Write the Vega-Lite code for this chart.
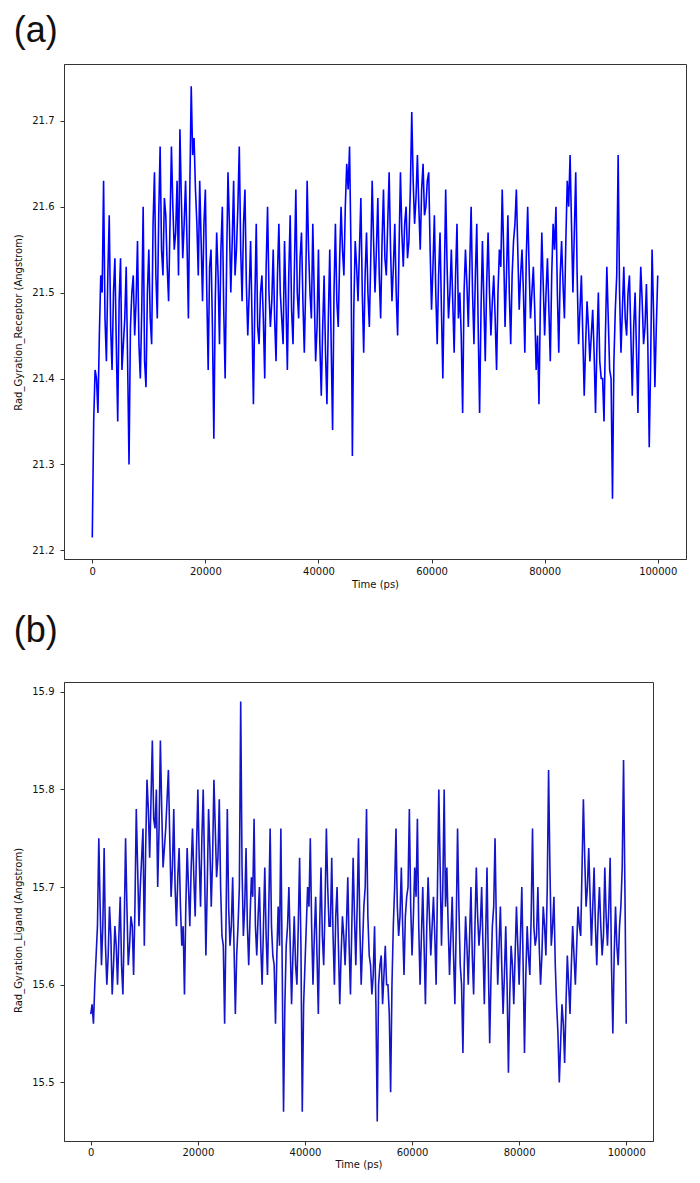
{
  "$schema": "https://vega.github.io/schema/vega-lite/v6.json",
  "description": "Radius of gyration of receptor (a) and ligand (b) over 100 ns",
  "padding": {"left": 13, "top": 12, "right": 5, "bottom": 5},
  "background": "white",
  "spacing": 22,
  "config": {
    "view": {"stroke": "#333", "strokeWidth": 1},
    "axis": {
      "grid": false,
      "domainColor": "#333",
      "tickColor": "#333",
      "tickSize": 4,
      "labelFont": "DejaVu Sans",
      "labelFontSize": 10,
      "labelColor": "#111",
      "titleFont": "DejaVu Sans",
      "titleFontSize": 10,
      "titleFontWeight": "normal",
      "titleColor": "#111",
      "labelFlush": false
    },
    "title": {
      "font": "Liberation Sans",
      "fontSize": 36,
      "fontWeight": "normal",
      "anchor": "start",
      "frame": "bounds",
      "color": "#111"
    }
  },
  "datasets": {
    "receptor": [
      {"t": 0, "v": 21.215}, {"t": 500, "v": 21.41}, {"t": 1000, "v": 21.36}, {"t": 1500, "v": 21.52},
      {"t": 2000, "v": 21.63}, {"t": 2500, "v": 21.42}, {"t": 3000, "v": 21.59}, {"t": 3500, "v": 21.41},
      {"t": 4000, "v": 21.54}, {"t": 4500, "v": 21.35}, {"t": 5000, "v": 21.54}, {"t": 5500, "v": 21.44},
      {"t": 6000, "v": 21.53}, {"t": 6500, "v": 21.30}, {"t": 7000, "v": 21.50}, {"t": 7500, "v": 21.45},
      {"t": 8000, "v": 21.56}, {"t": 8500, "v": 21.40}, {"t": 9000, "v": 21.60}, {"t": 9500, "v": 21.39},
      {"t": 10000, "v": 21.55}, {"t": 10500, "v": 21.44}, {"t": 11000, "v": 21.64}, {"t": 11500, "v": 21.47},
      {"t": 12000, "v": 21.67}, {"t": 12500, "v": 21.52}, {"t": 13000, "v": 21.59}, {"t": 13500, "v": 21.49},
      {"t": 14000, "v": 21.67}, {"t": 14500, "v": 21.55}, {"t": 15000, "v": 21.63}, {"t": 15500, "v": 21.69},
      {"t": 16000, "v": 21.54}, {"t": 16500, "v": 21.63}, {"t": 17000, "v": 21.47}, {"t": 17500, "v": 21.74},
      {"t": 18000, "v": 21.68}, {"t": 18500, "v": 21.58}, {"t": 19000, "v": 21.63}, {"t": 19500, "v": 21.49},
      {"t": 20000, "v": 21.62}, {"t": 20500, "v": 21.41}, {"t": 21000, "v": 21.55}, {"t": 21500, "v": 21.33},
      {"t": 22000, "v": 21.57}, {"t": 22500, "v": 21.44}, {"t": 23000, "v": 21.60}, {"t": 23500, "v": 21.40},
      {"t": 24000, "v": 21.64}, {"t": 24500, "v": 21.50}, {"t": 25000, "v": 21.63}, {"t": 25500, "v": 21.55},
      {"t": 26000, "v": 21.67}, {"t": 26500, "v": 21.49}, {"t": 27000, "v": 21.62}, {"t": 27500, "v": 21.45},
      {"t": 28000, "v": 21.56}, {"t": 28500, "v": 21.37}, {"t": 29000, "v": 21.58}, {"t": 29500, "v": 21.44},
      {"t": 30000, "v": 21.52}, {"t": 30500, "v": 21.40}, {"t": 31000, "v": 21.60}, {"t": 31500, "v": 21.46},
      {"t": 32000, "v": 21.55}, {"t": 32500, "v": 21.42}, {"t": 33000, "v": 21.58}, {"t": 33500, "v": 21.47},
      {"t": 34000, "v": 21.56}, {"t": 34500, "v": 21.41}, {"t": 35000, "v": 21.59}, {"t": 35500, "v": 21.44},
      {"t": 36000, "v": 21.62}, {"t": 36500, "v": 21.47}, {"t": 37000, "v": 21.57}, {"t": 37500, "v": 21.43},
      {"t": 38000, "v": 21.63}, {"t": 38500, "v": 21.50}, {"t": 39000, "v": 21.58}, {"t": 39500, "v": 21.42},
      {"t": 40000, "v": 21.55}, {"t": 40500, "v": 21.38}, {"t": 41000, "v": 21.52}, {"t": 41500, "v": 21.37},
      {"t": 42000, "v": 21.55}, {"t": 42500, "v": 21.34}, {"t": 43000, "v": 21.58}, {"t": 43500, "v": 21.46},
      {"t": 44000, "v": 21.60}, {"t": 44500, "v": 21.52}, {"t": 45000, "v": 21.65}, {"t": 45500, "v": 21.67},
      {"t": 46000, "v": 21.31}, {"t": 46500, "v": 21.56}, {"t": 47000, "v": 21.49}, {"t": 47500, "v": 21.61},
      {"t": 48000, "v": 21.43}, {"t": 48500, "v": 21.57}, {"t": 49000, "v": 21.46}, {"t": 49500, "v": 21.63},
      {"t": 50000, "v": 21.50}, {"t": 50500, "v": 21.61}, {"t": 51000, "v": 21.47}, {"t": 51500, "v": 21.62},
      {"t": 52000, "v": 21.52}, {"t": 52500, "v": 21.64}, {"t": 53000, "v": 21.49}, {"t": 53500, "v": 21.58},
      {"t": 54000, "v": 21.45}, {"t": 54500, "v": 21.64}, {"t": 55000, "v": 21.53}, {"t": 55500, "v": 21.60},
      {"t": 56000, "v": 21.56}, {"t": 56500, "v": 21.71}, {"t": 57000, "v": 21.58}, {"t": 57500, "v": 21.66},
      {"t": 58000, "v": 21.55}, {"t": 58500, "v": 21.65}, {"t": 59000, "v": 21.60}, {"t": 59500, "v": 21.64},
      {"t": 60000, "v": 21.48}, {"t": 60500, "v": 21.59}, {"t": 61000, "v": 21.44}, {"t": 61500, "v": 21.57},
      {"t": 62000, "v": 21.40}, {"t": 62500, "v": 21.62}, {"t": 63000, "v": 21.47}, {"t": 63500, "v": 21.55},
      {"t": 64000, "v": 21.43}, {"t": 64500, "v": 21.58}, {"t": 65000, "v": 21.50}, {"t": 65500, "v": 21.36},
      {"t": 66000, "v": 21.55}, {"t": 66500, "v": 21.46}, {"t": 67000, "v": 21.60}, {"t": 67500, "v": 21.44},
      {"t": 68000, "v": 21.58}, {"t": 68500, "v": 21.36}, {"t": 69000, "v": 21.56}, {"t": 69500, "v": 21.42},
      {"t": 70000, "v": 21.57}, {"t": 70500, "v": 21.45}, {"t": 71000, "v": 21.52}, {"t": 71500, "v": 21.41},
      {"t": 72000, "v": 21.55}, {"t": 72500, "v": 21.62}, {"t": 73000, "v": 21.46}, {"t": 73500, "v": 21.59},
      {"t": 74000, "v": 21.44}, {"t": 74500, "v": 21.56}, {"t": 75000, "v": 21.62}, {"t": 75500, "v": 21.48},
      {"t": 76000, "v": 21.55}, {"t": 76500, "v": 21.43}, {"t": 77000, "v": 21.60}, {"t": 77500, "v": 21.47},
      {"t": 78000, "v": 21.53}, {"t": 78500, "v": 21.41}, {"t": 79000, "v": 21.37}, {"t": 79500, "v": 21.57},
      {"t": 80000, "v": 21.45}, {"t": 80500, "v": 21.54}, {"t": 81000, "v": 21.42}, {"t": 81500, "v": 21.58},
      {"t": 82000, "v": 21.60}, {"t": 82500, "v": 21.43}, {"t": 83000, "v": 21.56}, {"t": 83500, "v": 21.47},
      {"t": 84000, "v": 21.63}, {"t": 84500, "v": 21.66}, {"t": 85000, "v": 21.50}, {"t": 85500, "v": 21.64},
      {"t": 86000, "v": 21.44}, {"t": 86500, "v": 21.52}, {"t": 87000, "v": 21.38}, {"t": 87500, "v": 21.49},
      {"t": 88000, "v": 21.42}, {"t": 88500, "v": 21.48}, {"t": 89000, "v": 21.36}, {"t": 89500, "v": 21.50},
      {"t": 90000, "v": 21.40}, {"t": 90500, "v": 21.35}, {"t": 91000, "v": 21.53}, {"t": 91500, "v": 21.41},
      {"t": 92000, "v": 21.26}, {"t": 92500, "v": 21.48}, {"t": 93000, "v": 21.66}, {"t": 93500, "v": 21.43},
      {"t": 94000, "v": 21.53}, {"t": 94500, "v": 21.45}, {"t": 95000, "v": 21.52}, {"t": 95500, "v": 21.38},
      {"t": 96000, "v": 21.50}, {"t": 96500, "v": 21.36}, {"t": 97000, "v": 21.53}, {"t": 97500, "v": 21.44},
      {"t": 98000, "v": 21.51}, {"t": 98500, "v": 21.32}, {"t": 99000, "v": 21.55}, {"t": 99500, "v": 21.39},
      {"t": 100000, "v": 21.52},
      {"t": 250, "v": 21.35}, {"t": 750, "v": 21.40}, {"t": 1250, "v": 21.45}, {"t": 1750, "v": 21.50},
      {"t": 2250, "v": 21.47}, {"t": 2750, "v": 21.52}, {"t": 3250, "v": 21.46}, {"t": 3750, "v": 21.50},
      {"t": 4250, "v": 21.44}, {"t": 4750, "v": 21.49}, {"t": 5250, "v": 21.41}, {"t": 5750, "v": 21.47},
      {"t": 6250, "v": 21.42}, {"t": 6750, "v": 21.46}, {"t": 7250, "v": 21.52}, {"t": 7750, "v": 21.49},
      {"t": 8250, "v": 21.44}, {"t": 8750, "v": 21.48}, {"t": 9250, "v": 21.42}, {"t": 9750, "v": 21.50},
      {"t": 10250, "v": 21.47}, {"t": 10750, "v": 21.58}, {"t": 11250, "v": 21.52}, {"t": 11750, "v": 21.59},
      {"t": 12250, "v": 21.55}, {"t": 12750, "v": 21.61}, {"t": 13250, "v": 21.53}, {"t": 13750, "v": 21.58},
      {"t": 14250, "v": 21.60}, {"t": 14750, "v": 21.57}, {"t": 15250, "v": 21.52}, {"t": 15750, "v": 21.61},
      {"t": 16250, "v": 21.58}, {"t": 16750, "v": 21.56}, {"t": 17250, "v": 21.62}, {"t": 17750, "v": 21.66},
      {"t": 18250, "v": 21.62}, {"t": 18750, "v": 21.52}, {"t": 19250, "v": 21.56}, {"t": 19750, "v": 21.58},
      {"t": 20250, "v": 21.50}, {"t": 20750, "v": 21.53}, {"t": 21250, "v": 21.46}, {"t": 21750, "v": 21.49},
      {"t": 22250, "v": 21.52}, {"t": 22750, "v": 21.55}, {"t": 23250, "v": 21.48}, {"t": 23750, "v": 21.53},
      {"t": 24250, "v": 21.58}, {"t": 24750, "v": 21.56}, {"t": 25250, "v": 21.52}, {"t": 25750, "v": 21.60},
      {"t": 26250, "v": 21.55}, {"t": 26750, "v": 21.58}, {"t": 27250, "v": 21.51}, {"t": 27750, "v": 21.50},
      {"t": 28250, "v": 21.47}, {"t": 28750, "v": 21.49}, {"t": 29250, "v": 21.46}, {"t": 29750, "v": 21.50},
      {"t": 30250, "v": 21.47}, {"t": 30750, "v": 21.53}, {"t": 31250, "v": 21.50}, {"t": 31750, "v": 21.49},
      {"t": 32250, "v": 21.47}, {"t": 32750, "v": 21.52}, {"t": 33250, "v": 21.50}, {"t": 33750, "v": 21.44},
      {"t": 34250, "v": 21.49}, {"t": 34750, "v": 21.52}, {"t": 35250, "v": 21.48}, {"t": 35750, "v": 21.53},
      {"t": 36250, "v": 21.50}, {"t": 36750, "v": 21.54}, {"t": 37250, "v": 21.49}, {"t": 37750, "v": 21.51},
      {"t": 38250, "v": 21.55}, {"t": 38750, "v": 21.47}, {"t": 39250, "v": 21.50}, {"t": 39750, "v": 21.46},
      {"t": 40250, "v": 21.44}, {"t": 40750, "v": 21.46}, {"t": 41250, "v": 21.43}, {"t": 41750, "v": 21.47},
      {"t": 42250, "v": 21.44}, {"t": 42750, "v": 21.50}, {"t": 43250, "v": 21.49}, {"t": 43750, "v": 21.54},
      {"t": 44250, "v": 21.55}, {"t": 44750, "v": 21.60}, {"t": 45250, "v": 21.62}, {"t": 45750, "v": 21.55},
      {"t": 46250, "v": 21.48}, {"t": 46750, "v": 21.53}, {"t": 47250, "v": 21.55}, {"t": 47750, "v": 21.50},
      {"t": 48250, "v": 21.52}, {"t": 48750, "v": 21.50}, {"t": 49250, "v": 21.54}, {"t": 49750, "v": 21.56},
      {"t": 50250, "v": 21.55}, {"t": 50750, "v": 21.52}, {"t": 51250, "v": 21.56}, {"t": 51750, "v": 21.54},
      {"t": 52250, "v": 21.58}, {"t": 52750, "v": 21.55}, {"t": 53250, "v": 21.53}, {"t": 53750, "v": 21.50},
      {"t": 54250, "v": 21.55}, {"t": 54750, "v": 21.57}, {"t": 55250, "v": 21.58}, {"t": 55750, "v": 21.54},
      {"t": 56250, "v": 21.62}, {"t": 56750, "v": 21.63}, {"t": 57250, "v": 21.61}, {"t": 57750, "v": 21.60},
      {"t": 58250, "v": 21.62}, {"t": 58750, "v": 21.59}, {"t": 59250, "v": 21.63}, {"t": 59750, "v": 21.55},
      {"t": 60250, "v": 21.53}, {"t": 60750, "v": 21.50}, {"t": 61250, "v": 21.52}, {"t": 61750, "v": 21.48},
      {"t": 62250, "v": 21.51}, {"t": 62750, "v": 21.53}, {"t": 63250, "v": 21.50}, {"t": 63750, "v": 21.49},
      {"t": 64250, "v": 21.52}, {"t": 64750, "v": 21.47}, {"t": 65250, "v": 21.45}, {"t": 65750, "v": 21.50},
      {"t": 66250, "v": 21.51}, {"t": 66750, "v": 21.53}, {"t": 67250, "v": 21.50}, {"t": 67750, "v": 21.52},
      {"t": 68250, "v": 21.46}, {"t": 68750, "v": 21.48}, {"t": 69250, "v": 21.49}, {"t": 69750, "v": 21.51},
      {"t": 70250, "v": 21.50}, {"t": 70750, "v": 21.49}, {"t": 71250, "v": 21.47}, {"t": 71750, "v": 21.50},
      {"t": 72250, "v": 21.53}, {"t": 72750, "v": 21.55}, {"t": 73250, "v": 21.52}, {"t": 73750, "v": 21.50},
      {"t": 74250, "v": 21.52}, {"t": 74750, "v": 21.58}, {"t": 75250, "v": 21.55}, {"t": 75750, "v": 21.52},
      {"t": 76250, "v": 21.50}, {"t": 76750, "v": 21.54}, {"t": 77250, "v": 21.53}, {"t": 77750, "v": 21.50},
      {"t": 78250, "v": 21.48}, {"t": 78750, "v": 21.45}, {"t": 79250, "v": 21.49}, {"t": 79750, "v": 21.51},
      {"t": 80250, "v": 21.50}, {"t": 80750, "v": 21.48}, {"t": 81250, "v": 21.52}, {"t": 81750, "v": 21.55},
      {"t": 82250, "v": 21.50}, {"t": 82750, "v": 21.52}, {"t": 83250, "v": 21.51}, {"t": 83750, "v": 21.56},
      {"t": 84250, "v": 21.60}, {"t": 84750, "v": 21.58}, {"t": 85250, "v": 21.57}, {"t": 85750, "v": 21.52},
      {"t": 86250, "v": 21.48}, {"t": 86750, "v": 21.45}, {"t": 87250, "v": 21.44}, {"t": 87750, "v": 21.46},
      {"t": 88250, "v": 21.45}, {"t": 88750, "v": 21.43}, {"t": 89250, "v": 21.44}, {"t": 89750, "v": 21.42},
      {"t": 90250, "v": 21.40}, {"t": 90750, "v": 21.45}, {"t": 91250, "v": 21.47}, {"t": 91750, "v": 21.40},
      {"t": 92250, "v": 21.42}, {"t": 92750, "v": 21.52}, {"t": 93250, "v": 21.50}, {"t": 93750, "v": 21.48},
      {"t": 94250, "v": 21.47}, {"t": 94750, "v": 21.50}, {"t": 95250, "v": 21.45}, {"t": 95750, "v": 21.46},
      {"t": 96250, "v": 21.43}, {"t": 96750, "v": 21.47}, {"t": 97250, "v": 21.49}, {"t": 97750, "v": 21.46},
      {"t": 98250, "v": 21.44}, {"t": 98750, "v": 21.42}, {"t": 99250, "v": 21.48}, {"t": 99750, "v": 21.46}
    ],
    "ligand": [
      {"t": 0, "v": 15.57}, {"t": 500, "v": 15.56}, {"t": 1000, "v": 15.63}, {"t": 1500, "v": 15.75},
      {"t": 2000, "v": 15.62}, {"t": 2500, "v": 15.74}, {"t": 3000, "v": 15.60}, {"t": 3500, "v": 15.68},
      {"t": 4000, "v": 15.59}, {"t": 4500, "v": 15.66}, {"t": 5000, "v": 15.60}, {"t": 5500, "v": 15.69},
      {"t": 6000, "v": 15.59}, {"t": 6500, "v": 15.75}, {"t": 7000, "v": 15.62}, {"t": 7500, "v": 15.67},
      {"t": 8000, "v": 15.61}, {"t": 8500, "v": 15.78}, {"t": 9000, "v": 15.66}, {"t": 9500, "v": 15.73},
      {"t": 10000, "v": 15.64}, {"t": 10500, "v": 15.81}, {"t": 11000, "v": 15.73}, {"t": 11500, "v": 15.85},
      {"t": 12000, "v": 15.76}, {"t": 12500, "v": 15.70}, {"t": 13000, "v": 15.85}, {"t": 13500, "v": 15.72},
      {"t": 14000, "v": 15.76}, {"t": 14500, "v": 15.82}, {"t": 15000, "v": 15.69}, {"t": 15500, "v": 15.78},
      {"t": 16000, "v": 15.66}, {"t": 16500, "v": 15.74}, {"t": 17000, "v": 15.64}, {"t": 17500, "v": 15.59},
      {"t": 18000, "v": 15.74}, {"t": 18500, "v": 15.66}, {"t": 19000, "v": 15.76}, {"t": 19500, "v": 15.67},
      {"t": 20000, "v": 15.80}, {"t": 20500, "v": 15.68}, {"t": 21000, "v": 15.80}, {"t": 21500, "v": 15.63},
      {"t": 22000, "v": 15.78}, {"t": 22500, "v": 15.68}, {"t": 23000, "v": 15.81}, {"t": 23500, "v": 15.71},
      {"t": 24000, "v": 15.79}, {"t": 24500, "v": 15.65}, {"t": 25000, "v": 15.56}, {"t": 25500, "v": 15.78},
      {"t": 26000, "v": 15.64}, {"t": 26500, "v": 15.71}, {"t": 27000, "v": 15.57}, {"t": 27500, "v": 15.66},
      {"t": 28000, "v": 15.89}, {"t": 28500, "v": 15.65}, {"t": 29000, "v": 15.74}, {"t": 29500, "v": 15.62},
      {"t": 30000, "v": 15.71}, {"t": 30500, "v": 15.77}, {"t": 31000, "v": 15.63}, {"t": 31500, "v": 15.70},
      {"t": 32000, "v": 15.60}, {"t": 32500, "v": 15.72}, {"t": 33000, "v": 15.61}, {"t": 33500, "v": 15.76},
      {"t": 34000, "v": 15.63}, {"t": 34500, "v": 15.56}, {"t": 35000, "v": 15.68}, {"t": 35500, "v": 15.76},
      {"t": 36000, "v": 15.47}, {"t": 36500, "v": 15.64}, {"t": 37000, "v": 15.70}, {"t": 37500, "v": 15.58},
      {"t": 38000, "v": 15.67}, {"t": 38500, "v": 15.60}, {"t": 39000, "v": 15.73}, {"t": 39500, "v": 15.47},
      {"t": 40000, "v": 15.62}, {"t": 40500, "v": 15.70}, {"t": 41000, "v": 15.75}, {"t": 41500, "v": 15.60},
      {"t": 42000, "v": 15.69}, {"t": 42500, "v": 15.57}, {"t": 43000, "v": 15.72}, {"t": 43500, "v": 15.62},
      {"t": 44000, "v": 15.76}, {"t": 44500, "v": 15.66}, {"t": 45000, "v": 15.73}, {"t": 45500, "v": 15.60},
      {"t": 46000, "v": 15.70}, {"t": 46500, "v": 15.58}, {"t": 47000, "v": 15.67}, {"t": 47500, "v": 15.62},
      {"t": 48000, "v": 15.71}, {"t": 48500, "v": 15.59}, {"t": 49000, "v": 15.73}, {"t": 49500, "v": 15.62},
      {"t": 50000, "v": 15.75}, {"t": 50500, "v": 15.60}, {"t": 51000, "v": 15.68}, {"t": 51500, "v": 15.78},
      {"t": 52000, "v": 15.63}, {"t": 52500, "v": 15.59}, {"t": 53000, "v": 15.66}, {"t": 53500, "v": 15.46},
      {"t": 54000, "v": 15.62}, {"t": 54500, "v": 15.58}, {"t": 55000, "v": 15.64}, {"t": 55500, "v": 15.60},
      {"t": 56000, "v": 15.49}, {"t": 56500, "v": 15.66}, {"t": 57000, "v": 15.76}, {"t": 57500, "v": 15.65},
      {"t": 58000, "v": 15.72}, {"t": 58500, "v": 15.61}, {"t": 59000, "v": 15.69}, {"t": 59500, "v": 15.78},
      {"t": 60000, "v": 15.63}, {"t": 60500, "v": 15.72}, {"t": 61000, "v": 15.77}, {"t": 61500, "v": 15.60},
      {"t": 62000, "v": 15.70}, {"t": 62500, "v": 15.58}, {"t": 63000, "v": 15.71}, {"t": 63500, "v": 15.63},
      {"t": 64000, "v": 15.69}, {"t": 64500, "v": 15.60}, {"t": 65000, "v": 15.80}, {"t": 65500, "v": 15.64},
      {"t": 66000, "v": 15.80}, {"t": 66500, "v": 15.72}, {"t": 67000, "v": 15.61}, {"t": 67500, "v": 15.69},
      {"t": 68000, "v": 15.58}, {"t": 68500, "v": 15.76}, {"t": 69000, "v": 15.62}, {"t": 69500, "v": 15.53},
      {"t": 70000, "v": 15.67}, {"t": 70500, "v": 15.60}, {"t": 71000, "v": 15.70}, {"t": 71500, "v": 15.59},
      {"t": 72000, "v": 15.72}, {"t": 72500, "v": 15.64}, {"t": 73000, "v": 15.70}, {"t": 73500, "v": 15.58},
      {"t": 74000, "v": 15.72}, {"t": 74500, "v": 15.54}, {"t": 75000, "v": 15.66}, {"t": 75500, "v": 15.75},
      {"t": 76000, "v": 15.60}, {"t": 76500, "v": 15.68}, {"t": 77000, "v": 15.57}, {"t": 77500, "v": 15.66},
      {"t": 78000, "v": 15.51}, {"t": 78500, "v": 15.64}, {"t": 79000, "v": 15.58}, {"t": 79500, "v": 15.68},
      {"t": 80000, "v": 15.60}, {"t": 80500, "v": 15.70}, {"t": 81000, "v": 15.53}, {"t": 81500, "v": 15.66},
      {"t": 82000, "v": 15.61}, {"t": 82500, "v": 15.76}, {"t": 83000, "v": 15.64}, {"t": 83500, "v": 15.70},
      {"t": 84000, "v": 15.60}, {"t": 84500, "v": 15.68}, {"t": 85000, "v": 15.63}, {"t": 85500, "v": 15.82},
      {"t": 86000, "v": 15.64}, {"t": 86500, "v": 15.69}, {"t": 87000, "v": 15.58}, {"t": 87500, "v": 15.50},
      {"t": 88000, "v": 15.58}, {"t": 88500, "v": 15.52}, {"t": 89000, "v": 15.63}, {"t": 89500, "v": 15.57},
      {"t": 90000, "v": 15.66}, {"t": 90500, "v": 15.60}, {"t": 91000, "v": 15.68}, {"t": 91500, "v": 15.65},
      {"t": 92000, "v": 15.79}, {"t": 92500, "v": 15.68}, {"t": 93000, "v": 15.74}, {"t": 93500, "v": 15.64},
      {"t": 94000, "v": 15.72}, {"t": 94500, "v": 15.62}, {"t": 95000, "v": 15.70}, {"t": 95500, "v": 15.63},
      {"t": 96000, "v": 15.72}, {"t": 96500, "v": 15.64}, {"t": 97000, "v": 15.73}, {"t": 97500, "v": 15.55},
      {"t": 98000, "v": 15.68}, {"t": 98500, "v": 15.62}, {"t": 99000, "v": 15.68}, {"t": 99500, "v": 15.83},
      {"t": 100000, "v": 15.56},
      {"t": 250, "v": 15.58}, {"t": 750, "v": 15.60}, {"t": 1250, "v": 15.66}, {"t": 1750, "v": 15.68},
      {"t": 2250, "v": 15.66}, {"t": 2750, "v": 15.64}, {"t": 3250, "v": 15.63}, {"t": 3750, "v": 15.65},
      {"t": 4250, "v": 15.62}, {"t": 4750, "v": 15.64}, {"t": 5250, "v": 15.65}, {"t": 5750, "v": 15.62},
      {"t": 6250, "v": 15.66}, {"t": 6750, "v": 15.68}, {"t": 7250, "v": 15.64}, {"t": 7750, "v": 15.66},
      {"t": 8250, "v": 15.68}, {"t": 8750, "v": 15.72}, {"t": 9250, "v": 15.70}, {"t": 9750, "v": 15.76},
      {"t": 10250, "v": 15.74}, {"t": 10750, "v": 15.78}, {"t": 11250, "v": 15.79}, {"t": 11750, "v": 15.77},
      {"t": 12250, "v": 15.80}, {"t": 12750, "v": 15.76}, {"t": 13250, "v": 15.78}, {"t": 13750, "v": 15.74},
      {"t": 14250, "v": 15.79}, {"t": 14750, "v": 15.75}, {"t": 15250, "v": 15.72}, {"t": 15750, "v": 15.70},
      {"t": 16250, "v": 15.71}, {"t": 16750, "v": 15.68}, {"t": 17250, "v": 15.66}, {"t": 17750, "v": 15.68},
      {"t": 18250, "v": 15.70}, {"t": 18750, "v": 15.72}, {"t": 19250, "v": 15.71}, {"t": 19750, "v": 15.74},
      {"t": 20250, "v": 15.73}, {"t": 20750, "v": 15.75}, {"t": 21250, "v": 15.72}, {"t": 21750, "v": 15.70},
      {"t": 22250, "v": 15.74}, {"t": 22750, "v": 15.73}, {"t": 23250, "v": 15.76}, {"t": 23750, "v": 15.73},
      {"t": 24250, "v": 15.70}, {"t": 24750, "v": 15.64}, {"t": 25250, "v": 15.66}, {"t": 25750, "v": 15.68},
      {"t": 26250, "v": 15.66}, {"t": 26750, "v": 15.64}, {"t": 27250, "v": 15.63}, {"t": 27750, "v": 15.70},
      {"t": 28250, "v": 15.72}, {"t": 28750, "v": 15.68}, {"t": 29250, "v": 15.66}, {"t": 29750, "v": 15.67},
      {"t": 30250, "v": 15.69}, {"t": 30750, "v": 15.66}, {"t": 31250, "v": 15.67}, {"t": 31750, "v": 15.64},
      {"t": 32250, "v": 15.66}, {"t": 32750, "v": 15.65}, {"t": 33250, "v": 15.68}, {"t": 33750, "v": 15.66},
      {"t": 34250, "v": 15.62}, {"t": 34750, "v": 15.63}, {"t": 35250, "v": 15.64}, {"t": 35750, "v": 15.62},
      {"t": 36250, "v": 15.58}, {"t": 36750, "v": 15.66}, {"t": 37250, "v": 15.64}, {"t": 37750, "v": 15.63},
      {"t": 38250, "v": 15.62}, {"t": 38750, "v": 15.66}, {"t": 39250, "v": 15.64}, {"t": 39750, "v": 15.58},
      {"t": 40250, "v": 15.66}, {"t": 40750, "v": 15.68}, {"t": 41250, "v": 15.66}, {"t": 41750, "v": 15.65},
      {"t": 42250, "v": 15.63}, {"t": 42750, "v": 15.66}, {"t": 43250, "v": 15.65}, {"t": 43750, "v": 15.68},
      {"t": 44250, "v": 15.70}, {"t": 44750, "v": 15.66}, {"t": 45250, "v": 15.65}, {"t": 45750, "v": 15.67},
      {"t": 46250, "v": 15.64}, {"t": 46750, "v": 15.63}, {"t": 47250, "v": 15.65}, {"t": 47750, "v": 15.66},
      {"t": 48250, "v": 15.64}, {"t": 48750, "v": 15.66}, {"t": 49250, "v": 15.67}, {"t": 49750, "v": 15.68},
      {"t": 50250, "v": 15.66}, {"t": 50750, "v": 15.64}, {"t": 51250, "v": 15.70}, {"t": 51750, "v": 15.67},
      {"t": 52250, "v": 15.62}, {"t": 52750, "v": 15.61}, {"t": 53250, "v": 15.58}, {"t": 53750, "v": 15.60},
      {"t": 54250, "v": 15.63}, {"t": 54750, "v": 15.61}, {"t": 55250, "v": 15.60}, {"t": 55750, "v": 15.57},
      {"t": 56250, "v": 15.60}, {"t": 56750, "v": 15.70}, {"t": 57250, "v": 15.68}, {"t": 57750, "v": 15.67},
      {"t": 58250, "v": 15.66}, {"t": 58750, "v": 15.67}, {"t": 59250, "v": 15.70}, {"t": 59750, "v": 15.68},
      {"t": 60250, "v": 15.67}, {"t": 60750, "v": 15.69}, {"t": 61250, "v": 15.66}, {"t": 61750, "v": 15.65},
      {"t": 62250, "v": 15.64}, {"t": 62750, "v": 15.66}, {"t": 63250, "v": 15.67}, {"t": 63750, "v": 15.66},
      {"t": 64250, "v": 15.65}, {"t": 64750, "v": 15.70}, {"t": 65250, "v": 15.72}, {"t": 65750, "v": 15.70},
      {"t": 66250, "v": 15.68}, {"t": 66750, "v": 15.66}, {"t": 67250, "v": 15.65}, {"t": 67750, "v": 15.63},
      {"t": 68250, "v": 15.66}, {"t": 68750, "v": 15.68}, {"t": 69250, "v": 15.60}, {"t": 69750, "v": 15.62},
      {"t": 70250, "v": 15.64}, {"t": 70750, "v": 15.65}, {"t": 71250, "v": 15.63}, {"t": 71750, "v": 15.66},
      {"t": 72250, "v": 15.67}, {"t": 72750, "v": 15.66}, {"t": 73250, "v": 15.64}, {"t": 73750, "v": 15.65},
      {"t": 74250, "v": 15.62}, {"t": 74750, "v": 15.61}, {"t": 75250, "v": 15.68}, {"t": 75750, "v": 15.66},
      {"t": 76250, "v": 15.64}, {"t": 76750, "v": 15.62}, {"t": 77250, "v": 15.61}, {"t": 77750, "v": 15.60},
      {"t": 78250, "v": 15.59}, {"t": 78750, "v": 15.62}, {"t": 79250, "v": 15.63}, {"t": 79750, "v": 15.64},
      {"t": 80250, "v": 15.65}, {"t": 80750, "v": 15.62}, {"t": 81250, "v": 15.61}, {"t": 81750, "v": 15.63},
      {"t": 82250, "v": 15.67}, {"t": 82750, "v": 15.66}, {"t": 83250, "v": 15.65}, {"t": 83750, "v": 15.64},
      {"t": 84250, "v": 15.63}, {"t": 84750, "v": 15.66}, {"t": 85250, "v": 15.70}, {"t": 85750, "v": 15.72},
      {"t": 86250, "v": 15.66}, {"t": 86750, "v": 15.62}, {"t": 87250, "v": 15.55}, {"t": 87750, "v": 15.54},
      {"t": 88250, "v": 15.56}, {"t": 88750, "v": 15.58}, {"t": 89250, "v": 15.60}, {"t": 89750, "v": 15.62},
      {"t": 90250, "v": 15.63}, {"t": 90750, "v": 15.64}, {"t": 91250, "v": 15.66}, {"t": 91750, "v": 15.72},
      {"t": 92250, "v": 15.73}, {"t": 92750, "v": 15.70}, {"t": 93250, "v": 15.69}, {"t": 93750, "v": 15.68},
      {"t": 94250, "v": 15.66}, {"t": 94750, "v": 15.67}, {"t": 95250, "v": 15.66}, {"t": 95750, "v": 15.65},
      {"t": 96250, "v": 15.67}, {"t": 96750, "v": 15.68}, {"t": 97250, "v": 15.62}, {"t": 97750, "v": 15.63},
      {"t": 98250, "v": 15.64}, {"t": 98750, "v": 15.66}, {"t": 99250, "v": 15.72}, {"t": 99750, "v": 15.70}
    ]
  },
  "vconcat": [
    {
      "title": {"text": "(a)", "offset": 14},
      "width": 622,
      "height": 495,
      "data": {"name": "receptor"},
      "mark": {"type": "line", "color": "#0000ff", "strokeWidth": 1.6, "clip": true},
      "encoding": {
        "x": {
          "field": "t",
          "type": "quantitative",
          "title": "Time (ps)",
          "scale": {"domain": [-5000, 105000], "nice": false, "zero": false},
          "axis": {"values": [0, 20000, 40000, 60000, 80000, 100000], "format": "d", "labelPadding": 3, "titlePadding": 3}
        },
        "y": {
          "field": "v",
          "type": "quantitative",
          "title": "Rad_Gyration_Receptor (Angstrom)",
          "scale": {"domain": [21.19, 21.766], "nice": false, "zero": false},
          "axis": {"values": [21.2, 21.3, 21.4, 21.5, 21.6, 21.7], "format": ".1f", "labelPadding": 6, "titlePadding": 8, "titleY": 258}
        },
        "order": {"field": "t", "type": "quantitative"}
      }
    },
    {
      "title": {"text": "(b)", "offset": 32},
      "width": 589,
      "height": 459,
      "data": {"name": "ligand"},
      "mark": {"type": "line", "color": "#1414c8", "strokeWidth": 1.6, "clip": true},
      "encoding": {
        "x": {
          "field": "t",
          "type": "quantitative",
          "title": "Time (ps)",
          "scale": {"domain": [-5000, 105000], "nice": false, "zero": false},
          "axis": {"values": [0, 20000, 40000, 60000, 80000, 100000], "format": "d", "labelPadding": 2, "titlePadding": 2}
        },
        "y": {
          "field": "v",
          "type": "quantitative",
          "title": "Rad_Gyration_Ligand (Angstrom)",
          "scale": {"domain": [15.44, 15.91], "nice": false, "zero": false},
          "axis": {"values": [15.5, 15.6, 15.7, 15.8, 15.9], "format": ".1f", "labelPadding": 6, "titlePadding": 8, "titleY": 248}
        },
        "order": {"field": "t", "type": "quantitative"}
      }
    }
  ]
}
